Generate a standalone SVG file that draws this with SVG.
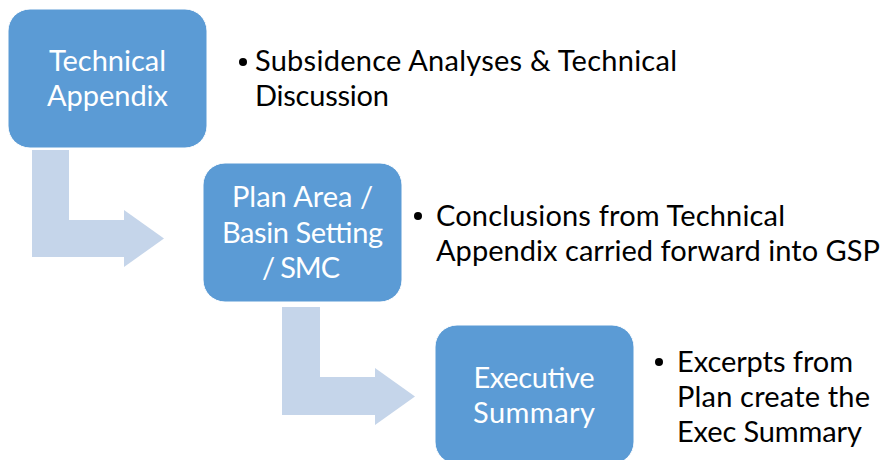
<svg xmlns="http://www.w3.org/2000/svg" width="885" height="460" viewBox="0 0 885 460">
<style>
.box{fill:#5B9BD5;stroke:#FFFFFF;stroke-width:1}
.arrow{fill:#C5D5EA}
.bt{font-family:Lato,"Open Sans",sans-serif;font-size:29px;fill:#FFFFFF;text-anchor:middle}
.tx{font-family:Lato,"Open Sans",sans-serif;font-size:29px;fill:#000000}
</style>
<rect width="885" height="460" fill="#FFFFFF"/>
<g id="connectors">
<path class="arrow" d="M32,150 H69 V220 H124 V210 L164,238.5 L124,267 V257 H32 Z"/>
<path class="arrow" d="M282,307 H320 V377 H375 V368 L415,396.5 L375,425 V415 H282 Z"/>
</g>
<g id="node-technical-appendix">
<rect class="box" x="8" y="9" width="199" height="139" rx="22"/>
<text class="bt" x="107.5" y="71" textLength="117">Technical</text>
<text class="bt" x="107.5" y="106" textLength="121">Appendix</text>
</g>
<g id="node-plan-area">
<rect class="box" x="203" y="163" width="199" height="139" rx="22"/>
<text class="bt" x="302.5" y="207" textLength="141">Plan Area /</text>
<text class="bt" x="302.5" y="243" textLength="161">Basin Setting</text>
<text class="bt" x="301" y="278" textLength="78">/ SMC</text>
</g>
<g id="node-executive-summary">
<rect class="box" x="435" y="325" width="199" height="139" rx="22"/>
<text class="bt" x="534" y="388" textLength="121">Executive</text>
<text class="bt" x="534" y="423" textLength="122">Summary</text>
</g>
<g id="text-technical-appendix">
<circle cx="243" cy="62" r="4"/>
<text class="tx" x="255" y="71" textLength="422">Subsidence Analyses &amp; Technical</text>
<text class="tx" x="255" y="106" textLength="134">Discussion</text>
</g>
<g id="text-plan-area">
<circle cx="418" cy="216" r="4"/>
<text class="tx" x="436" y="226" textLength="349">Conclusions from Technical</text>
<text class="tx" x="436" y="261" textLength="444">Appendix carried forward into GSP</text>
</g>
<g id="text-executive-summary">
<circle cx="659" cy="362" r="4"/>
<text class="tx" x="677" y="372" textLength="176">Excerpts from</text>
<text class="tx" x="677" y="407" textLength="193">Plan create the</text>
<text class="tx" x="677" y="442" textLength="185">Exec Summary</text>
</g>
</svg>
